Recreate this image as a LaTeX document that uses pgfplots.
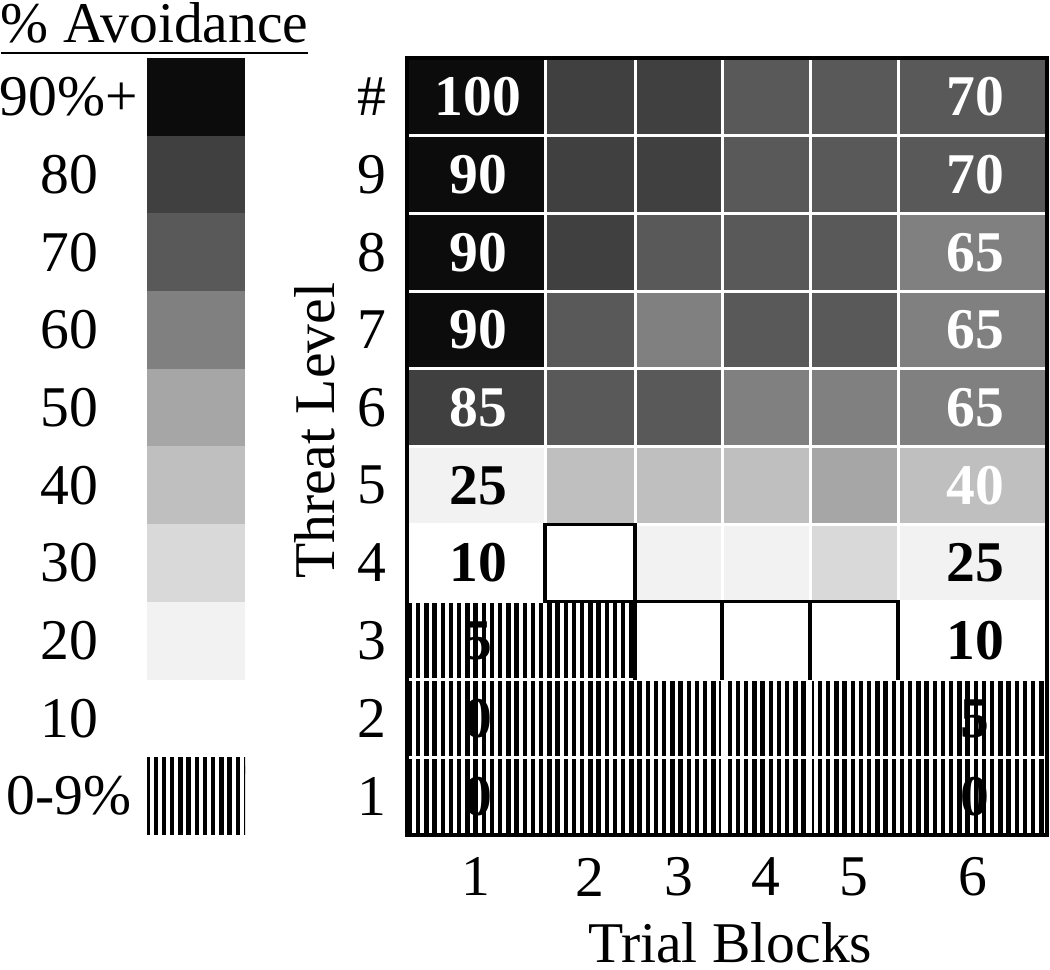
\documentclass[border=0pt]{standalone}
\usepackage{fontspec}
\setmainfont{Liberation Serif}
\usepackage{pgfplots}
\pgfplotsset{compat=1.18}
\usetikzlibrary{patterns}
\pgfdeclarepatternformonly{vstripes}{\pgfqpoint{-1pt}{-1pt}}{\pgfqpoint{1pt}{51pt}}{\pgfqpoint{2.05pt}{50pt}}{%
  \pgfpathrectangle{\pgfqpoint{-0.55pt}{-1pt}}{\pgfqpoint{1.1pt}{52pt}}\pgfusepath{fill}}
\definecolor{g90}{HTML}{0C0C0C}
\definecolor{g80}{HTML}{404040}
\definecolor{g70}{HTML}{595959}
\definecolor{g60}{HTML}{808080}
\definecolor{g50}{HTML}{A6A6A6}
\definecolor{g40}{HTML}{BFBFBF}
\definecolor{g30}{HTML}{D9D9D9}
\definecolor{g20}{HTML}{F2F2F2}
\definecolor{g10}{HTML}{FFFFFF}
% one cell: x0, x1, y0, y1, level (0 = 0-9% stripes)
\newcommand{\cell}[5]{%
  \ifnum#5=0
    \addplot[pattern=vstripes, draw=white, line width=0.75pt] coordinates {(#1,#3) (#2,#3) (#2,#4) (#1,#4)} -- cycle;
  \else
    \addplot[fill=g#5, draw=white, line width=0.75pt] coordinates {(#1,#3) (#2,#3) (#2,#4) (#1,#4)} -- cycle;
  \fi}
% one row: y0, y1, six levels
\newcommand{\hrow}[8]{%
  \cell{407}{545}{#1}{#2}{#3}%
  \cell{545}{635}{#1}{#2}{#4}%
  \cell{635}{722}{#1}{#2}{#5}%
  \cell{722}{810}{#1}{#2}{#6}%
  \cell{810}{898}{#1}{#2}{#7}%
  \cell{898}{1047}{#1}{#2}{#8}}
% legend swatch: y0, y1, level
\newcommand{\legsw}[3]{%
  \ifnum#3=0
    \addplot[pattern=vstripes, draw=none] coordinates {(147,#1) (245,#1) (245,#2) (147,#2)} -- cycle;
  \else
    \addplot[fill=g#3, draw=none] coordinates {(147,#1) (245,#1) (245,#2) (147,#2)} -- cycle;
  \fi}
\begin{document}
\fontsize{14.4}{17.3}\selectfont
\begin{tikzpicture}
\useasboundingbox (0,0) rectangle (262.5pt,242.5pt);
% ---------- legend ----------
\begin{axis}[at={(0pt,33.75pt)}, anchor=south west, scale only axis,
  width=101.75pt, height=194.25pt, xmin=0, xmax=407, ymin=0, ymax=10,
  hide axis, clip=false]
\legsw{0}{1}{0}
\legsw{1}{2}{10}
\legsw{2}{3}{20}
\legsw{3}{4}{30}
\legsw{4}{5}{40}
\legsw{5}{6}{50}
\legsw{6}{7}{60}
\legsw{7}{8}{70}
\legsw{8}{9}{80}
\legsw{9}{10}{90}
\node at (axis cs:69,9.5) {90\%+};
\node at (axis cs:69,8.5) {80};
\node at (axis cs:69,7.5) {70};
\node at (axis cs:69,6.5) {60};
\node at (axis cs:69,5.5) {50};
\node at (axis cs:69,4.5) {40};
\node at (axis cs:69,3.5) {30};
\node at (axis cs:69,2.5) {20};
\node at (axis cs:69,1.5) {10};
\node at (axis cs:69,0.5) {0-9\%};
\node[anchor=base west, inner sep=0pt] at (axis cs:0,10.205) {\underline{\% Avoidance\rule[-1.3pt]{0pt}{1pt}}};
\end{axis}
% ---------- heat map ----------
\begin{axis}[at={(101.75pt,33.75pt)}, anchor=south west, scale only axis,
  width=160pt, height=194.25pt, xmin=407, xmax=1047, ymin=0, ymax=10,
  axis on top, axis line style={line width=0.9pt},
  xtick={476,590,678.5,766,854,972.5}, xticklabels={1,2,3,4,5,6},
  ytick={0.5,1.5,2.5,3.5,4.5,5.5,6.5,7.5,8.5,9.5},
  yticklabels={1,2,3,4,5,6,7,8,9,\#},
  major tick length=0pt,
  xticklabel style={anchor=center, yshift=-10.5pt},
  yticklabel style={anchor=center, xshift=-8.75pt},
  xlabel={Trial Blocks}, ylabel={Threat Level},
  every axis x label/.style={at={(axis description cs:0.505,-0.139)}, anchor=center},
  every axis y label/.style={at={(axis description cs:-0.144,0.52)}, rotate=90, anchor=center}]
\hrow{9}{10}{90}{80}{80}{70}{70}{70}
\hrow{8}{9}{90}{80}{80}{70}{70}{70}
\hrow{7}{8}{90}{80}{70}{70}{70}{60}
\hrow{6}{7}{90}{70}{60}{70}{70}{60}
\hrow{5}{6}{80}{70}{70}{60}{60}{60}
\hrow{4}{5}{20}{40}{40}{40}{50}{40}
\hrow{3}{4}{10}{10}{20}{20}{30}{20}
\hrow{2}{3}{0}{0}{10}{10}{10}{10}
\hrow{1}{2}{0}{0}{0}{0}{0}{0}
\hrow{0}{1}{0}{0}{0}{0}{0}{0}
% boxed cells
\addplot[draw=black, line width=0.8pt] coordinates {(545,3) (635,3) (635,4) (545,4)} -- cycle;
\addplot[draw=black, line width=0.8pt] coordinates {(635,2) (635,3) (898,3) (898,2)};
\addplot[draw=black, line width=0.8pt] coordinates {(722,2) (722,3)};
\addplot[draw=black, line width=0.8pt] coordinates {(810,2) (810,3)};
% values
\node[font=\bfseries, text=white] at (axis cs:478,9.5) {100};
\node[font=\bfseries, text=white] at (axis cs:478,8.5) {90};
\node[font=\bfseries, text=white] at (axis cs:478,7.5) {90};
\node[font=\bfseries, text=white] at (axis cs:478,6.5) {90};
\node[font=\bfseries, text=white] at (axis cs:478,5.5) {85};
\node[font=\bfseries, text=black] at (axis cs:478,4.5) {25};
\node[font=\bfseries, text=black] at (axis cs:478,3.5) {10};
\node[font=\bfseries, text=black] at (axis cs:478,2.5) {5};
\node[font=\bfseries, text=black] at (axis cs:478,1.5) {0};
\node[font=\bfseries, text=black] at (axis cs:478,0.5) {0};
\node[font=\bfseries, text=white] at (axis cs:975,9.5) {70};
\node[font=\bfseries, text=white] at (axis cs:975,8.5) {70};
\node[font=\bfseries, text=white] at (axis cs:975,7.5) {65};
\node[font=\bfseries, text=white] at (axis cs:975,6.5) {65};
\node[font=\bfseries, text=white] at (axis cs:975,5.5) {65};
\node[font=\bfseries, text=white] at (axis cs:975,4.5) {40};
\node[font=\bfseries, text=black] at (axis cs:975,3.5) {25};
\node[font=\bfseries, text=black] at (axis cs:975,2.5) {10};
\node[font=\bfseries, text=black] at (axis cs:975,1.5) {5};
\node[font=\bfseries, text=black] at (axis cs:975,0.5) {0};
\end{axis}
\end{tikzpicture}
\end{document}
